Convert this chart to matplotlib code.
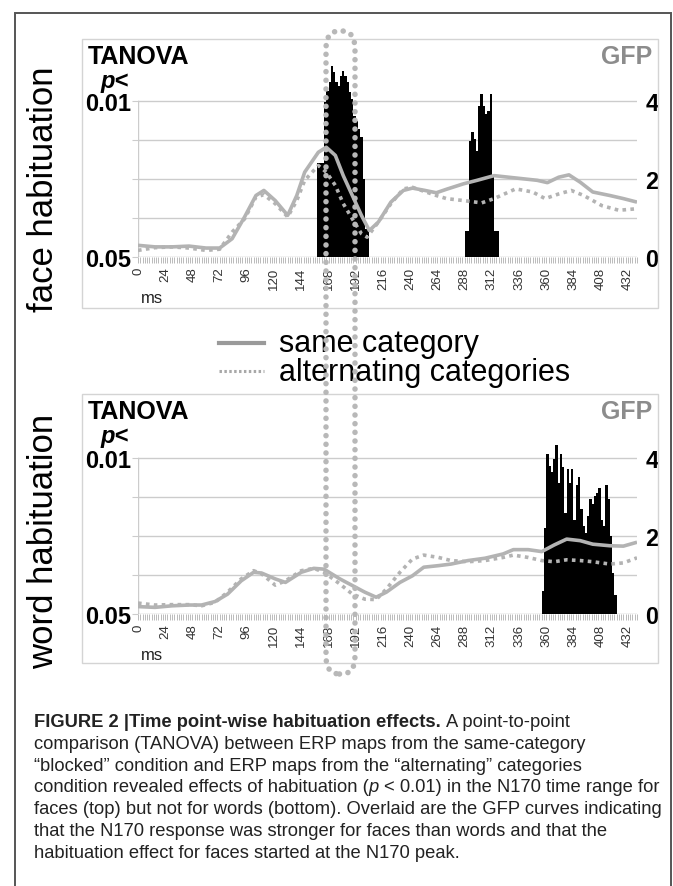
import matplotlib
matplotlib.use("Agg")
import matplotlib.pyplot as plt
from matplotlib.patches import Rectangle, FancyBboxPatch
from matplotlib.lines import Line2D

plt.rcParams['font.family'] = ['Liberation Sans', 'DejaVu Sans']

# ---------------- datos ----------------
# GFP, habituacion de caras (panel superior)
face_same_t = [0, 15, 30, 45, 60, 72, 83, 94, 104, 111, 121, 132, 140, 147, 159, 166, 174, 181, 189, 197,
               204, 212, 223, 234, 242, 253, 263, 272, 287, 299, 314, 333, 352, 361, 371, 380, 390, 401, 416, 428, 440]
face_same = [0.30, 0.26, 0.26, 0.28, 0.23, 0.23, 0.47, 1.03, 1.58, 1.71, 1.45, 1.07, 1.58, 2.18, 2.69, 2.82, 2.61, 2.09, 1.58, 1.07,
             0.68, 0.90, 1.41, 1.71, 1.77, 1.71, 1.65, 1.74, 1.88, 1.97, 2.09, 2.03, 1.97, 1.91, 2.05, 2.11, 1.92, 1.67, 1.58, 1.50, 1.41]
face_alt_t = [0, 15, 30, 45, 60, 72, 83, 94, 104, 111, 121, 132, 140, 147, 159, 166, 174, 181, 189, 197,
              202, 212, 223, 234, 242, 253, 263, 272, 287, 303, 314, 333, 348, 359, 371, 382, 393, 409, 424, 440]
face_alt = [0.17, 0.24, 0.26, 0.23, 0.17, 0.20, 0.64, 0.98, 1.54, 1.60, 1.37, 1.03, 1.45, 1.97, 2.35, 2.18, 1.84, 1.37, 0.98, 0.60,
            0.51, 0.90, 1.37, 1.75, 1.79, 1.68, 1.58, 1.50, 1.45, 1.39, 1.50, 1.75, 1.67, 1.50, 1.62, 1.71, 1.58, 1.32, 1.20, 1.24]

# GFP, habituacion de palabras (panel inferior)
word_t = [0, 15, 30, 45, 56, 68, 79, 91, 102, 109, 121, 130, 144, 155, 164, 178, 189, 200, 210, 219,
          231, 242, 252, 265, 276, 291, 306, 322, 331, 344, 356, 367, 378, 390, 401, 416, 428, 440]
word_same = [0.19, 0.17, 0.21, 0.23, 0.23, 0.32, 0.51, 0.85, 1.07, 1.05, 0.90, 0.81, 1.07, 1.17, 1.15, 0.90, 0.73, 0.56, 0.43, 0.56,
             0.81, 0.98, 1.20, 1.24, 1.28, 1.37, 1.43, 1.54, 1.65, 1.65, 1.60, 1.77, 1.92, 1.88, 1.79, 1.75, 1.74, 1.84]
word_alt = [0.28, 0.23, 0.24, 0.24, 0.21, 0.30, 0.56, 0.90, 1.11, 1.03, 0.74, 0.85, 1.11, 1.17, 1.07, 0.77, 0.51, 0.38, 0.37, 0.64,
            1.07, 1.41, 1.51, 1.45, 1.37, 1.34, 1.37, 1.45, 1.51, 1.45, 1.37, 1.34, 1.39, 1.37, 1.34, 1.28, 1.31, 1.44]

# TANOVA (barras negras), en unidades del eje GFP, cada 2 ms
face_bar1_t = list(range(158, 204, 2))
face_bar1 = [2.41, 2.41, 2.41, 3.99, 4.27, 4.49, 4.91, 4.74, 4.49, 4.40, 4.66, 4.79, 4.66, 4.49, 4.23, 4.06,
             3.63, 3.50, 3.29, 3.08, 2.00, 0.73, 0.73]
face_bar2_t = list(range(288, 318, 2))
face_bar2 = [0.68, 0.68, 2.99, 3.20, 3.03, 2.73, 3.89, 4.19, 3.89, 3.68, 3.76, 4.19, 2.09, 0.68, 0.68]
word_bar_t = list(range(356, 422, 2))
word_bar = [0.6, 2.2, 4.1, 3.8, 3.63, 3.98, 4.32, 3.37, 4.1, 3.76, 2.59, 3.72, 3.37, 3.72, 2.42, 3.3, 3.5,
            2.68, 2.25, 2.07, 2.5, 2.94, 2.81, 3.03, 3.11, 3.24, 2.42, 2.25, 3.3, 2.94, 1.99, 1.04, 0.48]

x_ticks = list(range(0, 433, 24))
gfp_ticks = [0, 2, 4]
p_labels = {0: '0.05', 4: '0.01'}

W, H = 673, 887
def fx(px):
    return px / W
def fy(py):
    return 1 - py / H

fig = plt.figure(figsize=(W / 100, H / 100), dpi=100)

LINE_C = '#b3b3b3'
GRID_C = '#cccccc'

def panel(y_base, y_top, ylim_top, bars, same_t, same, alt_t, alt, ylabel, box, label_y):
    # caja gris del grafico
    fig.patches.append(Rectangle((fx(82), fy(box[1])), fx(658) - fx(82), fy(box[0]) - fy(box[1]),
                                 transform=fig.transFigure, fill=False, ec='#d4d4d4', lw=1))
    ax = fig.add_axes([fx(138), fy(y_base), fx(637) - fx(138), fy(y_top) - fy(y_base)])
    ax.set_xlim(0, 440)
    ax.set_ylim(0, ylim_top)
    for s in ax.spines.values():
        s.set_visible(False)
    ax.patch.set_alpha(0)
    for g in [1, 2, 3, 4]:
        ax.axhline(g, color=GRID_C, lw=1, zorder=0)
    ax.plot([0, 0], [0, 4], color=GRID_C, lw=1, zorder=0)
    ax.axhline(0, color='#bbbbbb', lw=1, zorder=1)
    for bt, bh in bars:
        ax.bar(bt, bh, width=2, align='edge', color='black', lw=0, zorder=2)
    ax.plot(same_t, same, color=LINE_C, lw=2.6, solid_capstyle='butt', zorder=4)
    ax.plot(alt_t, alt, color=LINE_C, lw=2.6, linestyle=(0, (1, 1.2)), zorder=3)

    ax.set_xticks(x_ticks)
    ax.set_xticks(range(0, 441, 2), minor=True)
    ax.set_xticklabels([str(v) for v in x_ticks], rotation=90, fontsize=9.5, color='#333333')
    ax.tick_params(axis='x', which='both', length=4, width=0.6, color='#b0b0b0', pad=3)
    ax.set_yticks([0, 1, 2, 3, 4])
    ax.set_yticklabels([p_labels.get(v, '') for v in [0, 1, 2, 3, 4]], fontsize=17, fontweight='bold')
    ax.tick_params(axis='y', length=4, color=GRID_C, pad=1)

    ax2 = ax.twinx()
    ax2.set_ylim(0, ylim_top)
    ax2.set_yticks(gfp_ticks)
    ax2.set_yticklabels([str(v) for v in gfp_ticks], fontsize=17, fontweight='bold')
    ax2.tick_params(axis='y', length=0, pad=6)
    for s in ax2.spines.values():
        s.set_visible(False)

    fig.text(fx(88), fy(y_top + 24), 'TANOVA', fontsize=18, fontweight='bold', va='baseline')
    fig.text(fx(101), fy(y_top + 48), 'p<', fontsize=17, fontweight='bold', style='italic', va='baseline')
    fig.text(fx(652), fy(y_top + 24), 'GFP', fontsize=18, fontweight='bold', color='#8c8c8c',
             ha='right', va='baseline')
    fig.text(fx(141), fy(y_base + 45), 'ms', fontsize=12, va='baseline', color='#222222')
    fig.text(fx(44), fy(label_y), ylabel, fontsize=25, rotation=90,
             ha='center', va='center')
    return ax

panel(258, 40, 5.6, [(face_bar1_t, face_bar1), (face_bar2_t, face_bar2)],
      face_same_t, face_same, face_alt_t, face_alt, 'face habituation', (40, 309), 189)
panel(615, 395, 5.64, [(word_bar_t, word_bar)],
      word_t, word_same, word_t, word_alt, 'word habituation', (395, 664), 541)

# leyenda
fig.lines.append(Line2D([fx(219), fx(264)], [fy(344), fy(344)], transform=fig.transFigure,
                        color='#9a9a9a', lw=3))
fig.lines.append(Line2D([fx(219), fx(264)], [fy(372), fy(372)], transform=fig.transFigure,
                        color='#a8a8a8', lw=2.2, linestyle=(0, (0.8, 0.8))))
fig.text(fx(279), fy(352), 'same category', fontsize=22, va='baseline')
fig.text(fx(279), fy(381), 'alternating categories', fontsize=22, va='baseline')

# ovalo punteado sobre el N170
fig.patches.append(FancyBboxPatch((fx(326), fy(675)), fx(355) - fx(326), fy(32) - fy(675),
                                  boxstyle='round,pad=0,rounding_size=0.02',
                                  transform=fig.transFigure, fill=False, ec='#b8b8b8', lw=4,
                                  linestyle=(0, (0.01, 1.55)), capstyle='round', zorder=10))

# marco exterior
fig.patches.append(Rectangle((fx(15), fy(900)), fx(671) - fx(15), fy(14) - fy(900),
                             transform=fig.transFigure, fill=False, ec='#555555', lw=1.4))

# pie de figura
cap_font = ['Liberation Sans Narrow', 'Liberation Sans']
renderer = fig.canvas.get_renderer()

def draw_runs(x, y, runs, size=13.2):
    sp = fig.text(0, 0, 'a a', fontsize=size, family=cap_font)
    nsp = fig.text(0, 0, 'aa', fontsize=size, family=cap_font)
    space = (sp.get_window_extent(renderer).width - nsp.get_window_extent(renderer).width) / W
    sp.remove()
    nsp.remove()
    for s, kw in runs:
        if s.startswith(' '):
            x += space
            s = s[1:]
        t = fig.text(x, y, s, fontsize=size, family=cap_font, va='baseline', color='#222222', **kw)
        x = t.get_window_extent(renderer).x1 / W

cap_lines = [
    [('FIGURE 2 |Time point-wise habituation effects.', {'fontweight': 'bold'}), (' A point-to-point', {})],
    [('comparison (TANOVA) between ERP maps from the same-category', {})],
    [('\u201cblocked\u201d condition and ERP maps from the \u201calternating\u201d categories', {})],
    [('condition revealed effects of habituation (', {}), ('p', {'style': 'italic'}),
     (' < 0.01) in the N170 time range for', {})],
    [('faces (top) but not for words (bottom). Overlaid are the GFP curves indicating', {})],
    [('that the N170 response was stronger for faces than words and that the', {})],
    [('habituation effect for faces started at the N170 peak.', {})],
]
for i, runs in enumerate(cap_lines):
    draw_runs(fx(34), fy(727 + i * 21.8), runs)

fig.savefig('out.png', dpi=100)
